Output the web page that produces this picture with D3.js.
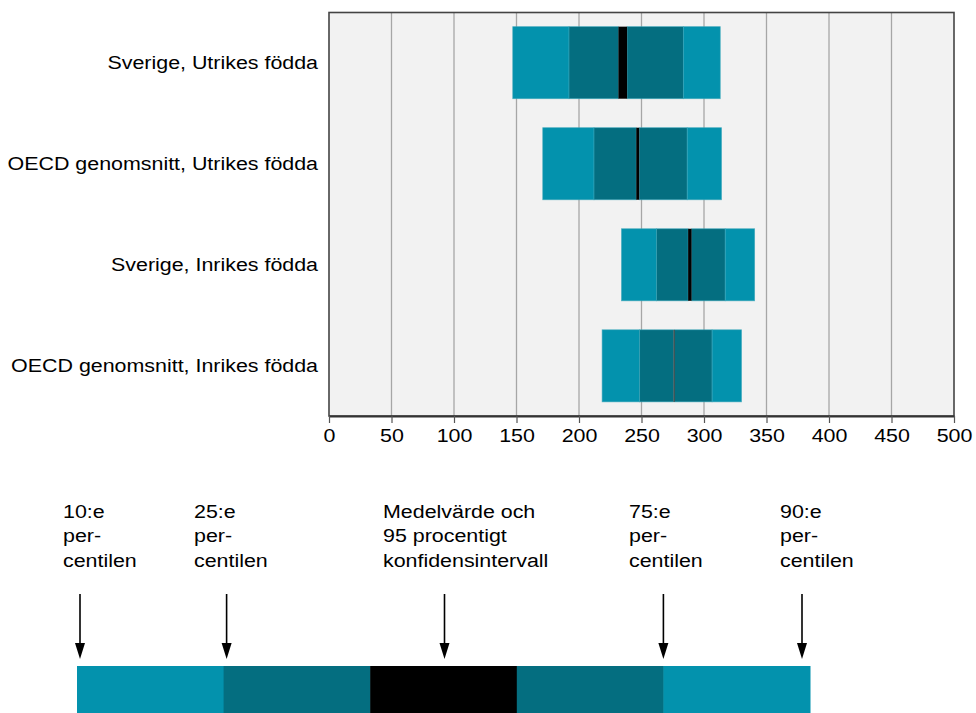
<!DOCTYPE html>
<html><head><meta charset="utf-8">
<script src="https://cdn.jsdelivr.net/npm/d3@7"></script>
<style>body{margin:0;background:#fff;} text{font-family:"Liberation Sans",Arial,sans-serif;}</style>
</head><body>
<svg id="c" width="976" height="713"></svg>
<script>
const categories = ["Sverige, Utrikes födda","OECD genomsnitt, Utrikes födda","Sverige, Inrikes födda","OECD genomsnitt, Inrikes födda"];
const p10 = [147, 171, 234, 218.5];
const p25 = [192, 212, 262, 248.5];
const ciLow = [231.5, 245.8, 287.3, 275.6];
const ciHigh = [238.5, 248.2, 290.1, 276.4];
const p75 = [283.5, 286.6, 317, 306.5];
const p90 = [313, 314, 340.5, 330];
const xTicks = [0,50,100,150,200,250,300,350,400,450,500];
const legendLabels = [["10:e","per-","centilen"],["25:e","per-","centilen"],["Medelvärde och","95 procentigt","konfidensintervall"],["75:e","per-","centilen"],["90:e","per-","centilen"]];
const legendParts = [0,1,2,3,4];

const light = "#0392ad", dark = "#046e80";
const FS = 18, SX = 1.19;
const svg = d3.select("#c");
const L = 329, R = 954, T = 12.5, B = 416;
const x = d3.scaleLinear().domain([0,500]).range([L,R]);
const y = d3.scaleBand().domain(categories).range([T,B]).paddingInner(0.287).paddingOuter(0.14);

svg.append("rect").attr("x",L).attr("y",T).attr("width",R-L).attr("height",B-T).attr("fill","#f2f2f2");
svg.append("g").selectAll("line").data(xTicks.slice(1,-1)).join("line")
  .attr("x1",d=>x(d)).attr("x2",d=>x(d)).attr("y1",T).attr("y2",B)
  .attr("stroke","#a6a6a6").attr("stroke-width",1.3);

const rows = categories.map((c,i)=>({c,i}));
const segs = [];
rows.forEach(({c,i})=>{
  segs.push({c,a:p10[i],b:p25[i],f:light});
  segs.push({c,a:p25[i],b:ciLow[i],f:dark});
  segs.push({c,a:ciHigh[i],b:p75[i],f:dark});
  segs.push({c,a:p75[i],b:p90[i],f:light});
});
svg.append("g").selectAll("rect").data(segs).join("rect")
  .attr("x",d=>x(d.a)).attr("width",d=>x(d.b)-x(d.a))
  .attr("y",d=>y(d.c)).attr("height",y.bandwidth())
  .attr("fill",d=>d.f).attr("stroke","#3aa6ba").attr("stroke-width",0.8).attr("stroke-opacity",0.7);
svg.append("g").selectAll("rect").data(rows).join("rect")
  .attr("x",d=>x(ciLow[d.i])).attr("width",d=>Math.max(1.2,x(ciHigh[d.i])-x(ciLow[d.i])))
  .attr("y",d=>y(d.c)).attr("height",y.bandwidth())
  .attr("fill",d=>(ciHigh[d.i]-ciLow[d.i])<2?"#333":"#000");

// frame
svg.append("rect").attr("x",L).attr("y",T).attr("width",R-L).attr("height",B-T)
  .attr("fill","none").attr("stroke","#444").attr("stroke-width",1.6);
// x axis
const ax = svg.append("g").attr("transform",`translate(0,${B})`)
  .call(d3.axisBottom(x).tickValues(xTicks).tickSize(7).tickPadding(6).tickSizeOuter(0));
ax.select(".domain").attr("stroke","#333").attr("stroke-width",2);
ax.selectAll(".tick line").attr("stroke","#555").attr("stroke-width",1.2);
ax.selectAll("text").attr("font-size",FS).attr("fill","#000")
  .attr("font-family","Liberation Sans, Arial, sans-serif").attr("transform",`scale(${SX},1)`);

// category labels
svg.append("g").selectAll("text").data(categories).join("text")
  .attr("transform",d=>`translate(318,${y(d)+y.bandwidth()/2}) scale(${SX},1)`).attr("dy","0.35em")
  .attr("text-anchor","end").attr("font-size",FS).attr("fill","#000").text(d=>d);

// legend bar
const lx = d3.scaleLinear().domain([0,5]).range([77,810]);
const legCols = [light,dark,"#000",dark,light];
svg.append("g").selectAll("rect").data(legendParts).join("rect")
  .attr("x",d=>lx(d)).attr("width",d=>lx(d+1)-lx(d)+0.5).attr("y",666).attr("height",47)
  .attr("fill",(d,i)=>legCols[i]);
const arrowX = [lx(0)+3, lx(1)+3, (lx(2)+lx(3))/2+1, lx(4), lx(5)-8];
const textX = [63, 194, 383, 629, 780];
const ag = svg.append("g");
arrowX.forEach(ax0=>{
  ag.append("line").attr("x1",ax0).attr("x2",ax0).attr("y1",594).attr("y2",650).attr("stroke","#000").attr("stroke-width",1.6);
  ag.append("path").attr("d",`M${ax0-5},643 L${ax0+5},643 L${ax0},659 Z`).attr("fill","#000");
});
legendLabels.forEach((lines,i)=>{
  const t = svg.append("text").attr("transform",`translate(${textX[i]},0) scale(${SX},1)`).attr("font-size",FS).attr("fill","#000");
  lines.forEach((ln,j)=>t.append("tspan").attr("x",0).attr("y",518+j*24.5).text(ln));
});
</script>
</body></html>
